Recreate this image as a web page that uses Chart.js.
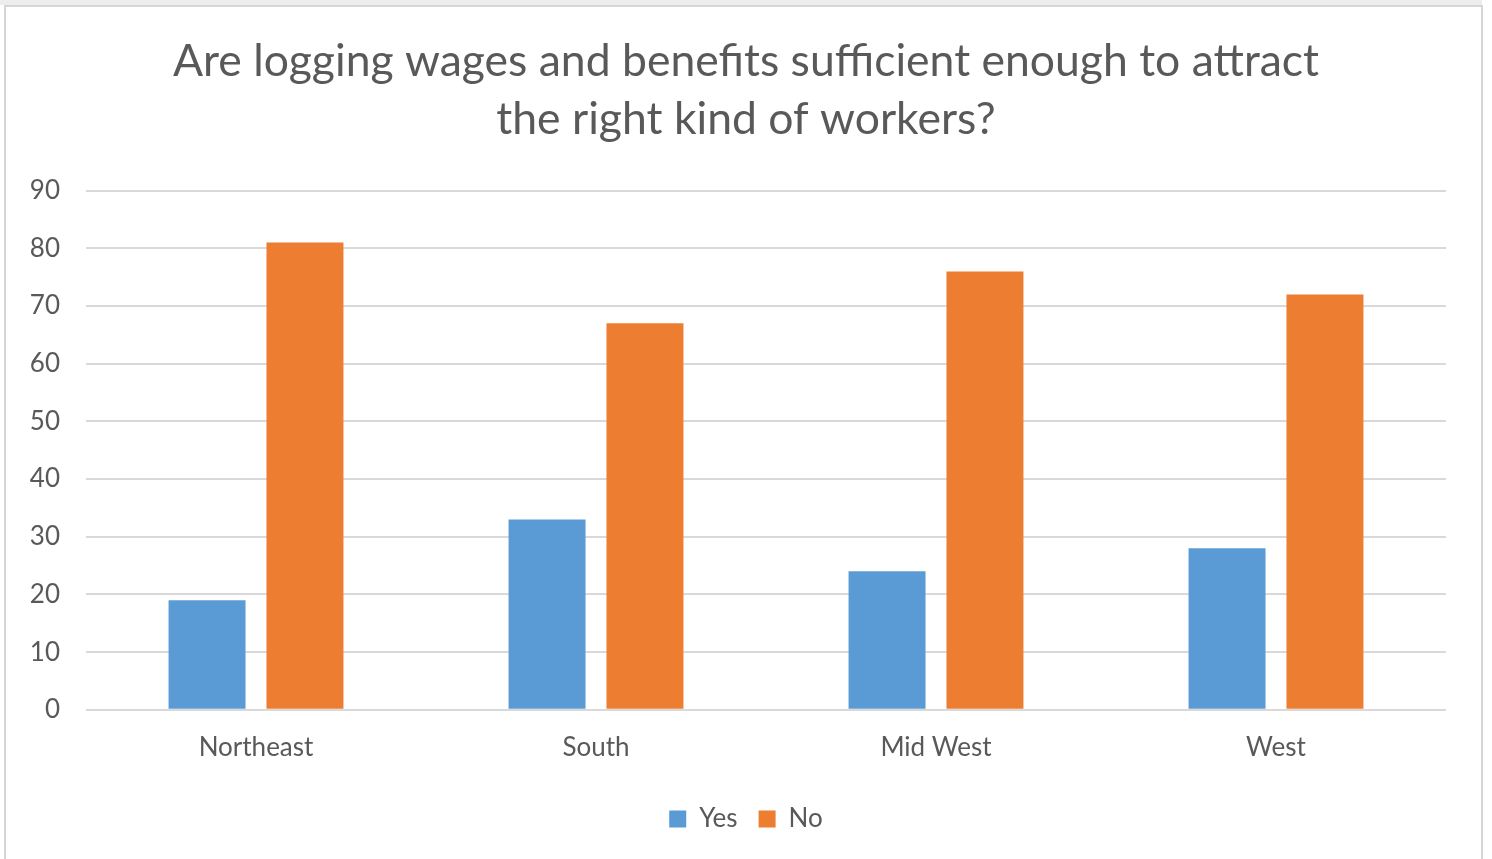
<!DOCTYPE html>
<html>
<head>
<meta charset="utf-8">
<script src="https://cdn.jsdelivr.net/npm/chart.js@4.4.1/dist/chart.umd.min.js"></script>
<style>
  html, body { margin: 0; padding: 0; background: #fff; overflow: hidden; }
  #wrap { position: relative; width: 1492px; height: 859px; }
</style>
</head>
<body>
<div id="wrap"><canvas id="chart" width="1492" height="859"></canvas></div>
<script>
// ---- данные опроса ----
const regions   = ["Northeast", "South", "Mid West", "West"];
const yesValues = [19, 33, 24, 28];
const noValues  = [81, 67, 76, 72];
const yTicks    = [0, 10, 20, 30, 40, 50, 60, 70, 80, 90];

const TEXT = "#595959";
const FONT = "Lato, 'Open Sans', sans-serif";

// рамка вокруг графика (как у вставленного из Excel)
const framePlugin = {
  id: "frame",
  beforeDraw(chart) {
    const c = chart.ctx;
    c.save();
    c.fillStyle = "#eceeee";
    c.fillRect(0, 0, 1482, 5);
    c.strokeStyle = "#d6d6d6";
    c.lineWidth = 2;
    c.beginPath();
    c.moveTo(5, 859); c.lineTo(5, 6); c.lineTo(1482, 6); c.lineTo(1482, 859);
    c.stroke();
    c.restore();
  }
};

new Chart(document.getElementById("chart"), {
  type: "bar",
  data: {
    labels: regions,
    datasets: [
      { label: "Yes", data: yesValues, backgroundColor: "#5b9bd5", borderWidth: 0 },
      { label: "No",  data: noValues,  backgroundColor: "#ed7d31", borderWidth: 0 },
    ],
  },
  options: {
    responsive: false,
    animation: false,
    datasets: { bar: { categoryPercentage: 0.576, barPercentage: 0.786 } },
    layout: { padding: { top: 33, right: 0, bottom: 17, left: 0 } },
    plugins: {
      title: {
        display: true,
        text: ["Are logging wages and benefits sufficient enough to attract", "the right kind of workers?"],
        color: TEXT,
        font: { family: FONT, size: 44.5, weight: "normal", lineHeight: 1.3 },
        padding: { top: 0, bottom: 42 },
      },
      legend: {
        position: "bottom",
        labels: {
          color: TEXT,
          font: { family: FONT, size: 26 },
          boxWidth: 17, boxHeight: 17,
          padding: 21,
        },
      },
      tooltip: { enabled: false },
    },
    scales: {
      x: {
        grid: { display: false, drawTicks: false },
        border: { display: false },
        ticks: { color: TEXT, font: { family: FONT, size: 26 }, padding: 22 },
      },
      y: {
        min: 0, max: 90,
        afterFit(s) { s.width = 86; },
        afterBuildTicks(s) { s.ticks = yTicks.map(v => ({ value: v })); },
        grid: { color: "#d9d9d9", lineWidth: 2, drawTicks: false },
        border: { display: false },
        ticks: { color: TEXT, font: { family: FONT, size: 26 }, padding: 26 },
      },
      // пустая ось справа — отступ, чтобы заголовок и легенда оставались по центру
      yRight: {
        position: "right",
        display: true,
        afterFit(s) { s.width = 46; },
        grid: { display: false, drawTicks: false },
        border: { display: false },
        ticks: { display: false },
      },
    },
  },
  plugins: [framePlugin],
});
</script>
</body>
</html>
